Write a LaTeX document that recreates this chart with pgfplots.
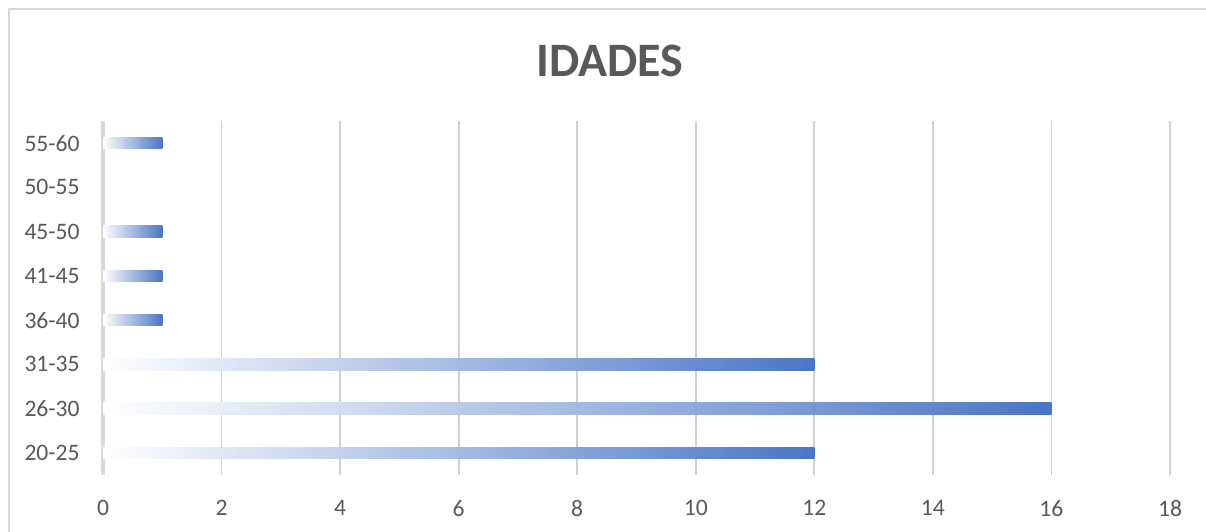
\documentclass[border=0pt]{standalone}
\usepackage{fontspec}
\setmainfont{Carlito}
\usepackage{pgfplots}
\pgfplotsset{compat=1.18}
\definecolor{txt}{HTML}{595959}
\definecolor{gridc}{HTML}{D0D0D0}
\definecolor{barc}{HTML}{4472C4}
\definecolor{framec}{HTML}{D9D9D9}
\tikzset{mybar/.style={draw=none, left color=white, right color=barc, fill opacity=0.97}}
\begin{document}
\begin{tikzpicture}
\useasboundingbox[fill=white] (0,0) rectangle (603bp,266bp);
\draw[framec, line width=1bp] (4.5bp,0) -- (4.5bp,261.5bp) -- (603bp,261.5bp);
\node[anchor=base, text=txt, font=\fontsize{24bp}{28bp}\selectfont\bfseries, inner sep=0pt] at (305bp,227.5bp) {IDADES};
\begin{axis}[
  at={(51.5bp,28.5bp)}, anchor=south west,
  scale only axis, width=533.5bp, height=177bp,
  xbar, bar width=5.8bp, bar shift=0pt,
  xmin=0, xmax=18, ymin=-0.5, ymax=7.5,
  xtick={0,2,...,18},
  ytick={0,1,...,7},
  yticklabels={20-25,26-30,31-35,36-40,41-45,45-50,50-55,55-60},
  major tick length=0pt,
  axis line style={draw=none},
  xmajorgrids, grid style={gridc, line width=0.9bp},
  extra x ticks={0}, extra x tick labels={},
  extra x tick style={grid style={framec, line width=2bp}},
  /pgf/number format/assume math mode=true,
  tick label style={text=txt, font=\fontsize{11.8bp}{14bp}\selectfont, inner sep=0pt},
  yticklabel style={xshift=-11.5bp},
  xticklabel style={yshift=-12.5bp},
  clip=false,
]
\addplot[mybar] coordinates {(12,0)};
\addplot[mybar] coordinates {(16,1)};
\addplot[mybar] coordinates {(12,2)};
\addplot[mybar] coordinates {(1,3)};
\addplot[mybar] coordinates {(1,4)};
\addplot[mybar] coordinates {(1,5)};
\addplot[mybar] coordinates {(1,7)};
\end{axis}
\end{tikzpicture}
\end{document}
